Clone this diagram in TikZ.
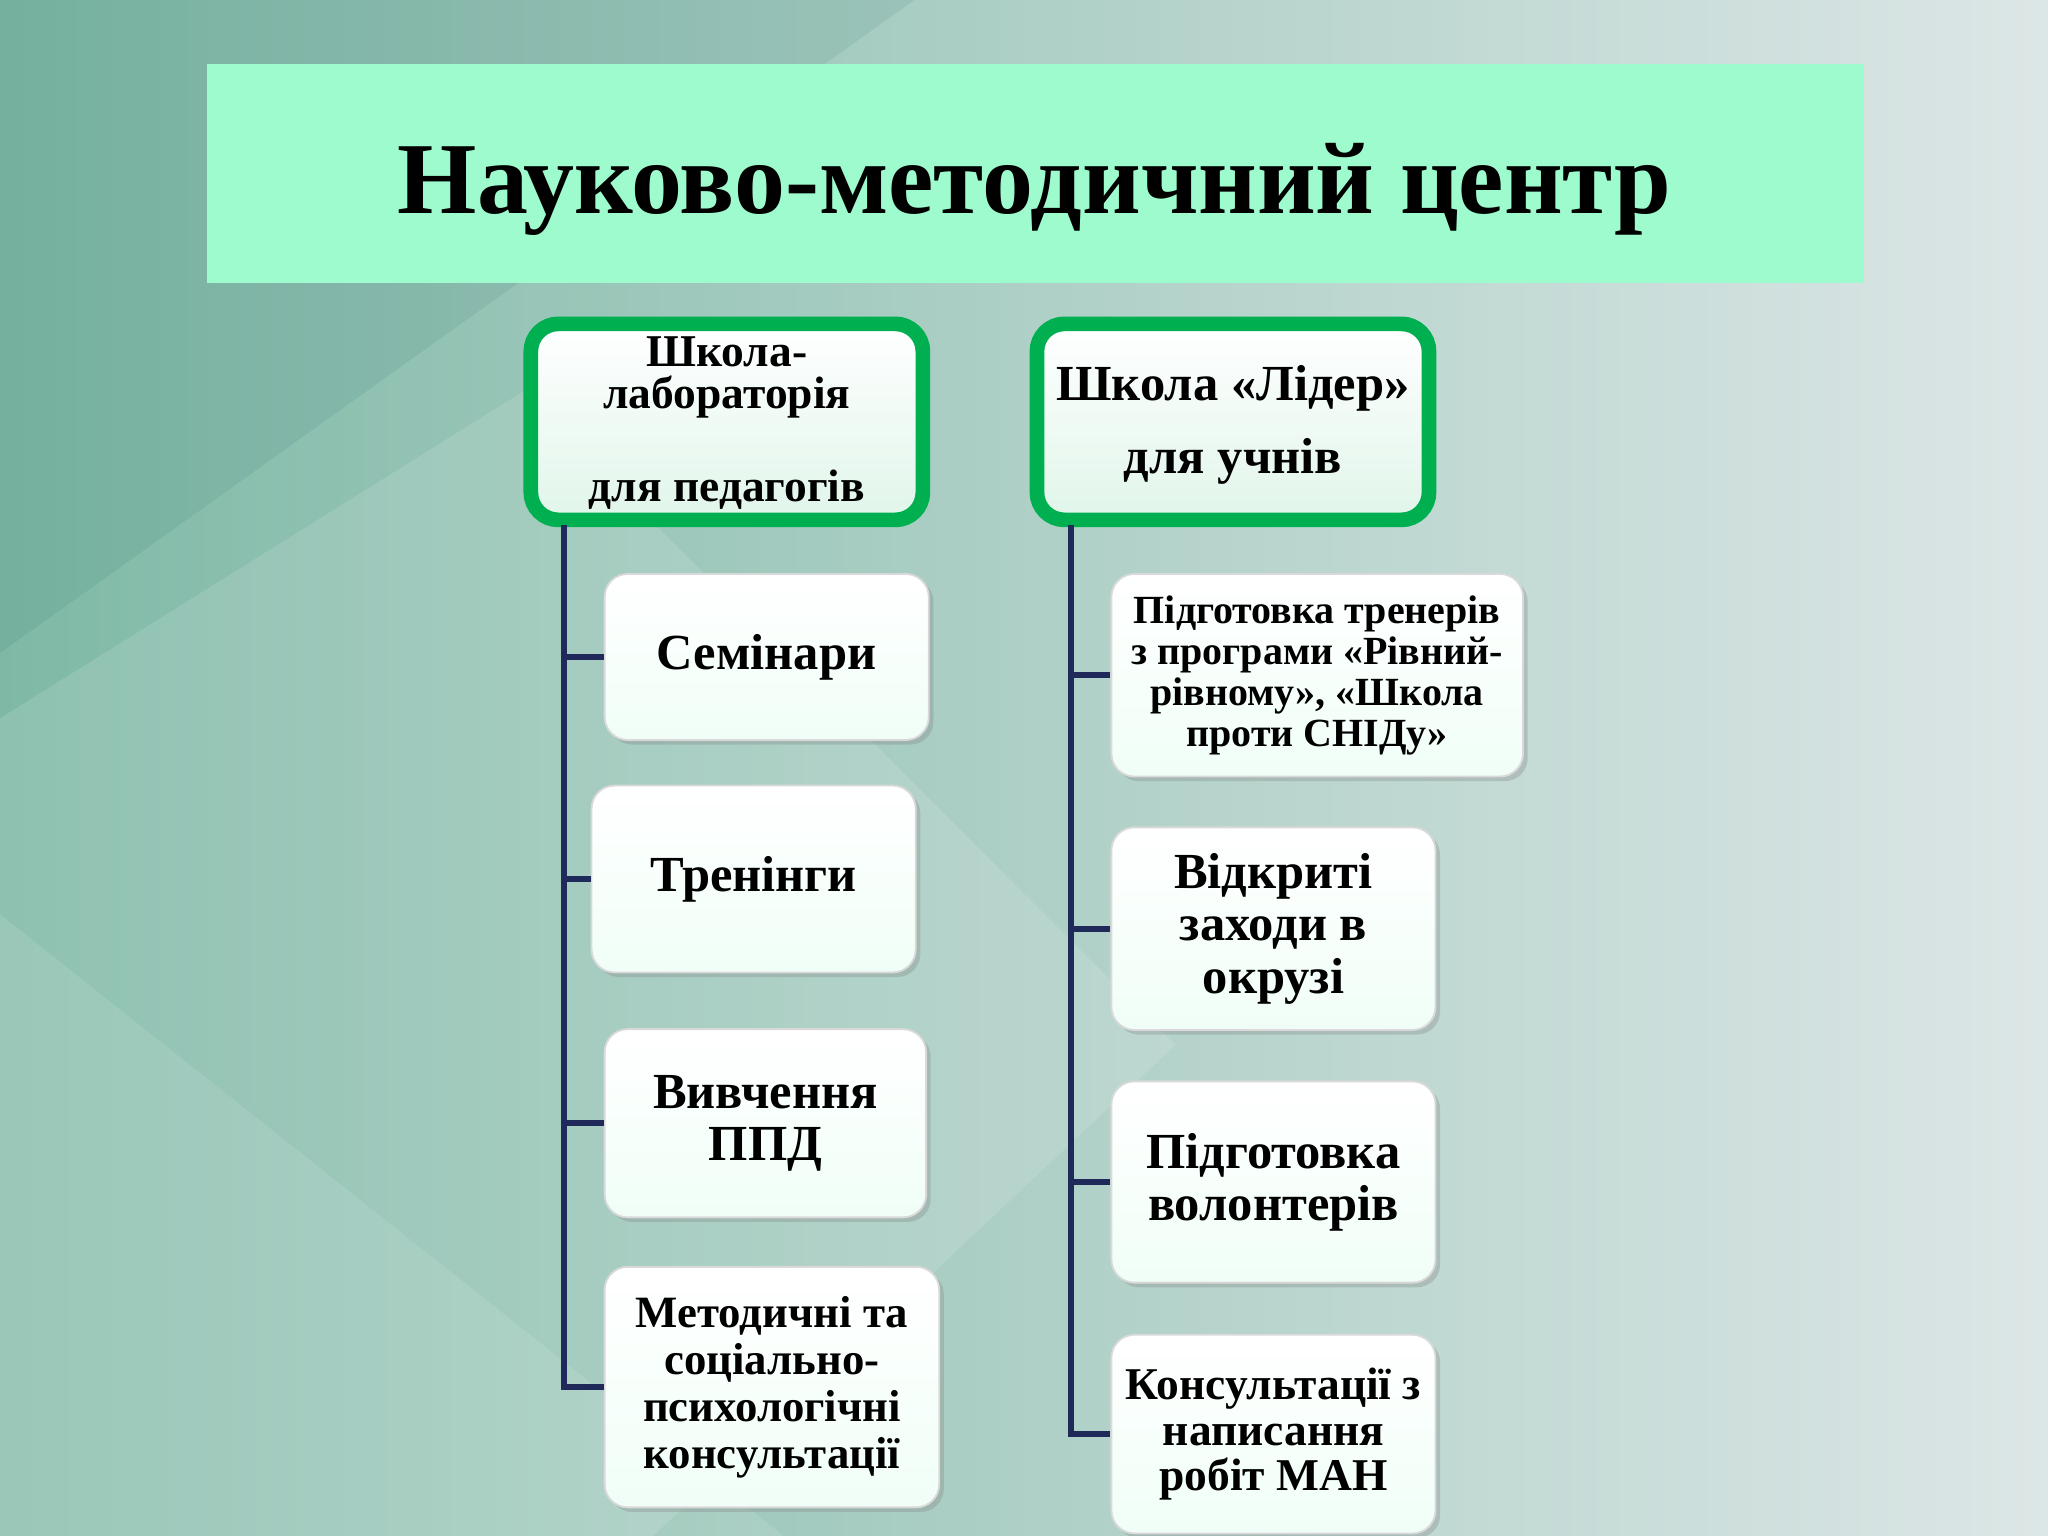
\documentclass[tikz,border=0pt]{standalone}
\usepackage{fontspec}
\setmainfont{Liberation Serif}
\usetikzlibrary{shadows}
\definecolor{bandc}{HTML}{9EFBCD}
\definecolor{greenb}{HTML}{00B050}
\definecolor{linec}{HTML}{1F2A5A}
\definecolor{bgl}{HTML}{7FB9A6}
\definecolor{bgr}{HTML}{DCE6E6}
\tikzset{
 hdr/.style={draw=greenb,line width=3.2pt,rounded corners=6pt,top color=white,bottom color=white!88!greenb,inner sep=0pt,minimum width=3.0cm,minimum height=1.5cm},
 htxt/.style={font=\bfseries\fontsize{11}{13}\selectfont,inner sep=0pt},
 htxts/.style={font=\bfseries\fontsize{9.9}{12}\selectfont,inner sep=0pt},
 child/.style={draw=black!15,rounded corners=5pt,top color=white,bottom color=white!85!bandc,drop shadow={opacity=0.3,shadow xshift=1pt,shadow yshift=-1pt},align=center,font=\bfseries,inner sep=2pt},
 conn/.style={draw=linec,line width=1.3pt}
}
\begin{document}
\begin{tikzpicture}[x=0.01cm,y=-0.01cm]
\useasboundingbox (0,0) rectangle (1568,1176);
\shade[left color=bgl,right color=bgr] (0,0) rectangle (1568,1176);
\fill[white,opacity=0.12] (0,550) -- (400,300) -- (900,800) -- (500,1176) -- (0,1176) -- cycle;
\fill[white,opacity=0.1] (0,700) -- (600,1176) -- (0,1176) -- cycle;
\fill[black!40!teal,opacity=0.08] (0,0) -- (700,0) -- (0,500) -- cycle;
\node[fill=bandc,minimum width=12.68cm,minimum height=1.68cm,anchor=north west,inner sep=0] (title) at (158,48) {};
\node[font=\bfseries\fontsize{22.2}{27}\selectfont] at (792,145) {Науково-методичний центр};
% headers
\node[hdr] (h1) at (556.5,323) {};
\node[htxts] at (556.5,269) {Школа-};
\node[htxts] at (556.5,304) {лабораторія};
\node[htxts] at (556.5,375) {для педагогів};
\node[hdr] (h2) at (944,323) {};
\node[htxt] at (944,297) {Школа «Лідер»};
\node[htxt] at (944,353) {для учнів};
% left children
\node[child,minimum width=2.48cm,minimum height=1.27cm,font=\bfseries\fontsize{11}{13}\selectfont] (l1) at (587,503) {Семінари};
\node[child,minimum width=2.48cm,minimum height=1.43cm,font=\bfseries\fontsize{11}{13}\selectfont] (l2) at (577,673) {Тренінги};
\node[child,minimum width=2.46cm,minimum height=1.44cm,font=\bfseries\fontsize{11}{11.3}\selectfont] (l3) at (586,860) {Вивчення\\ППД};
\node[child,minimum width=2.56cm,minimum height=1.84cm,font=\bfseries\fontsize{9.75}{10.2}\selectfont] (l4) at (591,1062) {Методичні та\\соціально-\\психологічні\\консультації};
% right children
\node[child,minimum width=3.15cm,minimum height=1.55cm,font=\bfseries\fontsize{8.7}{8.9}\selectfont] (r1) at (1008.5,517) {Підготовка тренерів\\з програми «Рівний-\\рівному», «Школа\\проти СНІДу»};
\node[child,minimum width=2.48cm,minimum height=1.55cm,font=\bfseries\fontsize{11}{11.4}\selectfont] (r2) at (975,711) {Відкриті\\заходи в\\окрузі};
\node[child,minimum width=2.48cm,minimum height=1.54cm,font=\bfseries\fontsize{11}{11.4}\selectfont] (r3) at (975,905) {Підготовка\\волонтерів};
\node[child,minimum width=2.48cm,minimum height=1.52cm,font=\bfseries\fontsize{9.9}{10}\selectfont] (r4) at (975,1098) {Консультації з\\написання\\робіт МАН};
% connectors
\coordinate (lt) at (432,402);
\draw[conn] (lt) |- (l4.west);
\draw[conn] (lt|-l1.west) -- (l1.west);
\draw[conn] (lt|-l2.west) -- (l2.west);
\draw[conn] (lt|-l3.west) -- (l3.west);
\coordinate (rt) at (820,402);
\draw[conn] (rt) |- (r4.west);
\draw[conn] (rt|-r1.west) -- (r1.west);
\draw[conn] (rt|-r2.west) -- (r2.west);
\draw[conn] (rt|-r3.west) -- (r3.west);
\end{tikzpicture}
\end{document}
